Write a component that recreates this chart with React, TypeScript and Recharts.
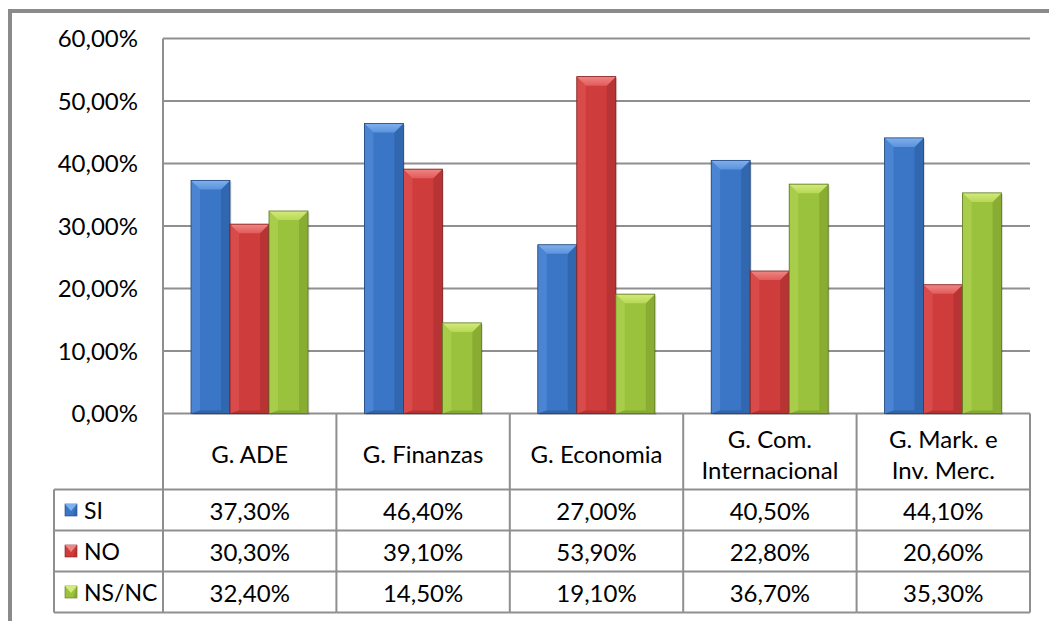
import { BarChart, Bar, XAxis, YAxis, CartesianGrid } from 'recharts';

const categories = ['G. ADE', 'G. Finanzas', 'G. Economia', 'G. Com.\nInternacional', 'G. Mark. e\nInv. Merc.'];
const siValues = [37.3, 46.4, 27.0, 40.5, 44.1];
const noValues = [30.3, 39.1, 53.9, 22.8, 20.6];
const nsncValues = [32.4, 14.5, 19.1, 36.7, 35.3];
const yTicks = [0, 10, 20, 30, 40, 50, 60];

const series = [
  { key: 'si', name: 'SI', values: siValues, body: '#3a75c6', side: '#4a84d2', edge: '#2c5d9f', light: '#7fb0ee', mid: '#5c93dc', dark: '#1f4578' },
  { key: 'no', name: 'NO', values: noValues, body: '#cf3c3c', side: '#d94b4b', edge: '#a82d2d', light: '#f08684', mid: '#e05c5b', dark: '#7d1d1d' },
  { key: 'nsnc', name: 'NS/NC', values: nsncValues, body: '#9bc23d', side: '#a8cd4a', edge: '#7d9e2c', light: '#d4ea7c', mid: '#b7d856', dark: '#5c7520' },
];

const data = categories.map((cat, i) => ({
  cat,
  si: siValues[i],
  no: noValues[i],
  nsnc: nsncValues[i],
}));

const W = 1049;
const H = 621;
const PLOT_LEFT = 163;
const PLOT_RIGHT = 1030;
const BAND = (PLOT_RIGHT - PLOT_LEFT) / categories.length;
const HEADER_H = 76;
const ROW_H = 41;
const LEGEND_LEFT = 54;
const FONT = 'Lato, "Open Sans", sans-serif';
const FS = 24;
const LINE = '#8f8f8f';

const pct = (v: number) => v.toFixed(2).replace('.', ',') + '%';

function bevelShape(s: typeof series[number]) {
  return (props: any) => {
    const { x, y, width, height } = props;
    if (!height || height <= 0) return <g />;
    const b = Math.min(9, height / 2);
    const gid = `top-${s.key}`;
    return (
      <g>
        <defs>
          <linearGradient id={gid} x1="0" y1="0" x2="0" y2="1">
            <stop offset="0%" stopColor={s.light} />
            <stop offset="100%" stopColor={s.mid} />
          </linearGradient>
        </defs>
        <rect x={x + 1.5} y={y + 1.5} width={width} height={height} fill="#000" opacity={0.12} />
        <rect x={x} y={y} width={width} height={height} fill={s.body} />
        <polygon points={`${x},${y} ${x + b},${y + b} ${x + b},${y + height - 3} ${x},${y + height}`} fill={s.side} />
        <polygon points={`${x + width},${y} ${x + width - b},${y + b} ${x + width - b},${y + height - 3} ${x + width},${y + height}`} fill={s.edge} opacity={0.6} />
        <polygon points={`${x},${y + height} ${x + b},${y + height - 3} ${x + width - b},${y + height - 3} ${x + width},${y + height}`} fill={s.edge} opacity={0.7} />
        <polygon points={`${x},${y} ${x + width},${y} ${x + width - b},${y + b} ${x + b},${y + b}`} fill={`url(#${gid})`} />
        <rect x={x} y={y} width={width} height={height} fill="none" stroke={s.dark} strokeWidth={0.8} />
      </g>
    );
  };
}

function LegendKey({ x, y, s }: { x: number; y: number; s: typeof series[number] }) {
  const w = 12;
  const b = 4;
  return (
    <g>
      <rect x={x} y={y} width={w} height={w} fill={s.body} stroke={s.dark} strokeWidth={0.6} />
      <polygon points={`${x},${y} ${x + w},${y} ${x + w / 2},${y + w / 2 + 1}`} fill={s.light} />
      <polygon points={`${x + w},${y} ${x + w},${y + w} ${x + w - b},${y + w}`} fill={s.edge} opacity={0.6} />
    </g>
  );
}

function TableColumn(props: any) {
  const { x, y, payload } = props;
  const index = payload.index ?? props.index ?? 0;
  const top = y;
  const headBottom = top + HEADER_H;
  const bottom = headBottom + ROW_H * series.length;
  const left = x - BAND / 2;
  const right = x + BAND / 2;
  const lines = String(payload.value).split('\n');
  const lh = 31;
  const headMid = top + HEADER_H / 2 + 2;
  return (
    <g>
      {index === 0 && (
        <g>
          <line x1={left} y1={top} x2={left} y2={bottom} stroke={LINE} strokeWidth={2} />
          <line x1={LEGEND_LEFT} y1={headBottom} x2={LEGEND_LEFT} y2={bottom} stroke={LINE} strokeWidth={2} />
          {series.map((s, r) => {
            const ry = headBottom + ROW_H * r;
            return (
              <g key={s.key}>
                <line x1={LEGEND_LEFT} y1={ry + ROW_H} x2={left} y2={ry + ROW_H} stroke={LINE} strokeWidth={2} />
                <LegendKey x={LEGEND_LEFT + 11} y={ry + ROW_H / 2 - 6} s={s} />
                <text x={LEGEND_LEFT + 30} y={ry + ROW_H / 2} dominantBaseline="central" fontFamily={FONT} fontSize={23} fill="#000">
                  {s.name}
                </text>
              </g>
            );
          })}
          <line x1={LEGEND_LEFT} y1={headBottom} x2={left} y2={headBottom} stroke={LINE} strokeWidth={2} />
        </g>
      )}
      <line x1={right} y1={top} x2={right} y2={bottom} stroke={LINE} strokeWidth={2} />
      <line x1={left} y1={headBottom} x2={right} y2={headBottom} stroke={LINE} strokeWidth={2} />
      {lines.map((l, k) => (
        <text
          key={k}
          x={x}
          y={headMid + (k - (lines.length - 1) / 2) * lh}
          textAnchor="middle"
          dominantBaseline="central"
          fontFamily={FONT}
          fontSize={FS}
          fill="#000"
        >
          {l}
        </text>
      ))}
      {series.map((s, r) => {
        const ry = headBottom + ROW_H * r;
        return (
          <g key={s.key}>
            <line x1={left} y1={ry + ROW_H} x2={right} y2={ry + ROW_H} stroke={LINE} strokeWidth={2} />
            <text x={x} y={ry + ROW_H / 2} textAnchor="middle" dominantBaseline="central" fontFamily={FONT} fontSize={FS} fill="#000">
              {pct(s.values[index])}
            </text>
          </g>
        );
      })}
    </g>
  );
}

export default function App() {
  return (
    <div style={{ position: 'absolute', left: 0, top: 0, width: W, height: H, background: '#fff' }}>
      <svg width={W} height={H} style={{ position: 'absolute', left: 0, top: 0 }}>
        <line x1={10} y1={11} x2={W} y2={11} stroke="#8a8a8a" strokeWidth={4} />
        <line x1={10} y1={9} x2={10} y2={H} stroke="#8a8a8a" strokeWidth={4} />
      </svg>
      <div style={{ position: 'absolute', left: 0, top: 0 }}>
        <BarChart
          width={W}
          height={H}
          data={data}
          margin={{ top: 38.5, right: W - PLOT_RIGHT, bottom: 0, left: 0 }}
          barSize={39}
          barGap={0}
        >
          <CartesianGrid vertical={false} stroke={LINE} strokeWidth={2} />
          <YAxis
            width={PLOT_LEFT}
            domain={[0, 60]}
            ticks={yTicks}
            interval={0}
            tickFormatter={pct}
            tickLine={false}
            tickSize={0}
            tickMargin={25}
            axisLine={{ stroke: LINE, strokeWidth: 2 }}
            tick={{ fontFamily: FONT, fontSize: FS, fill: '#000' }}
          />
          <XAxis
            dataKey="cat"
            height={H - 38.5 - 375}
            interval={0}
            axisLine={false}
            tickLine={false}
            tickSize={0}
            tickMargin={0}
            tick={<TableColumn />}
          />
          {series.map((s) => (
            <Bar key={s.key} dataKey={s.key} name={s.name} shape={bevelShape(s)} isAnimationActive={false} />
          ))}
        </BarChart>
      </div>
    </div>
  );
}
